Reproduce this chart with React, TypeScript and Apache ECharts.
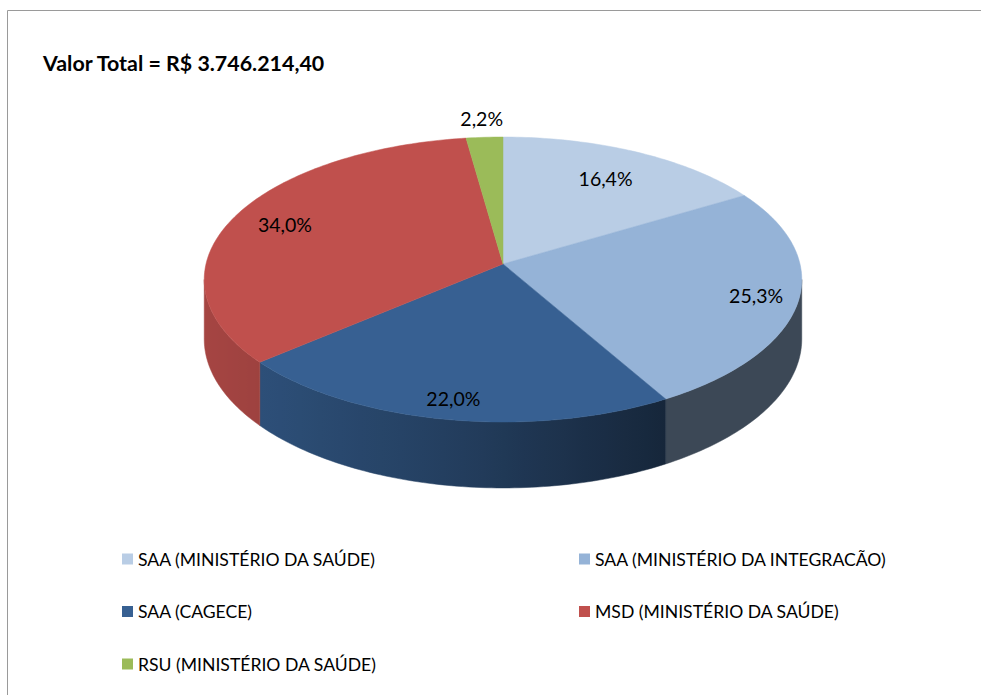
import React, { useEffect, useRef } from 'react';
import * as echarts from 'echarts';

// ---- data ----
const categories = [
  'SAA (MINISTÉRIO DA SAÚDE)',
  'SAA (MINISTÉRIO DA INTEGRACÃO)',
  'SAA (CAGECE)',
  'MSD (MINISTÉRIO DA SAÚDE)',
  'RSU (MINISTÉRIO DA SAÚDE)',
];
const shares = [16.4, 25.3, 22.0, 34.0, 2.2];
const titleText = 'Valor Total = R$ 3.746.214,40';

// ---- styles / layout ----
const colors = ['#B9CDE5', '#95B3D7', '#376092', '#C0504D', '#9BBB59'];
const CX = 503;
const CY = 264;
const RX = 297;
const RY = 140.8;
const K = 0.1088;
const DEPTH = 58.8;
const LABEL_R = [0.75, 0.86, 0.88, 0.81, 1.17];
const SHADE: number[][] = [
  [0, 0.86],
  [0.1, 0.82],
  [0.4, 0.66],
  [0.53, 0.57],
  [0.77, 0.4],
  [1, 0.4],
];
const FONT = 'Lato, "Open Sans", sans-serif';

function proj(phi: number, r = 1): [number, number] {
  const c = Math.cos(phi);
  const s = Math.sin(phi);
  const d = 1 - K * r * s;
  return [CX + (RX * r * c) / d, CY + (RY * r * s) / d];
}
function depthAt(phi: number) {
  return DEPTH / (1 - K * Math.sin(phi));
}
function shadeFactor(u: number) {
  if (u <= SHADE[0][0]) return SHADE[0][1];
  for (let i = 1; i < SHADE.length; i++) {
    if (u <= SHADE[i][0]) {
      const [u0, f0] = SHADE[i - 1];
      const [u1, f1] = SHADE[i];
      return f0 + ((f1 - f0) * (u - u0)) / (u1 - u0);
    }
  }
  return SHADE[SHADE.length - 1][1];
}
function shade(hex: string, f: number) {
  const n = parseInt(hex.slice(1), 16);
  const r = (n >> 16) & 255;
  const g = (n >> 8) & 255;
  const b = n & 255;
  return `rgb(${Math.round(r * f)},${Math.round(g * f)},${Math.round(b * f)})`;
}
function fmt(v: number) {
  return v.toFixed(1).replace('.', ',') + '%';
}

export default function App() {
  const ref = useRef<HTMLDivElement>(null);
  useEffect(() => {
    if (!ref.current) return;
    const chart = echarts.init(ref.current, null, { renderer: 'svg' });
    const total = shares.reduce((a, b) => a + b, 0);
    const starts: number[] = [];
    let acc = 0;
    shares.forEach((v) => {
      starts.push(acc);
      acc += v;
    });
    const angOf = (p: number) => -Math.PI / 2 + (2 * Math.PI * p) / total;
    const PHI_M = Math.asin(K);
    const xMin = CX - RX / Math.sqrt(1 - K * K);
    const xMax = CX + RX / Math.sqrt(1 - K * K);

    const data = shares.map((v, i) => ({
      name: categories[i],
      value: v,
      itemStyle: { color: colors[i] },
    }));

    const renderSide = (params: any, api: any) => {
      const i = params.dataIndex;
      const v = api.value(0);
      const a0 = angOf(starts[i]);
      const a1 = angOf(starts[i] + v);
      const a = Math.max(a0, PHI_M);
      const b = Math.min(a1, Math.PI - PHI_M);
      if (a >= b) return { type: 'group', children: [] };
      const n = Math.max(4, Math.ceil(((b - a) * 180) / Math.PI));
      const top: [number, number][] = [];
      for (let k = 0; k <= n; k++) top.push(proj(a + ((b - a) * k) / n));
      const bottom: [number, number][] = [];
      for (let k = n; k >= 0; k--) {
        const phi = a + ((b - a) * k) / n;
        const p = proj(phi);
        bottom.push([p[0], p[1] + depthAt(phi)]);
      }
      const pts = top.concat(bottom);
      let mn = Infinity;
      let mx = -Infinity;
      pts.forEach((p) => {
        mn = Math.min(mn, p[0]);
        mx = Math.max(mx, p[0]);
      });
      const base = colors[i];
      const stops = [];
      for (let t = 0; t <= 20; t++) {
        const x = mn + ((mx - mn) * t) / 20;
        const u = (x - xMin) / (xMax - xMin);
        stops.push({ offset: t / 20, color: shade(base, shadeFactor(u)) });
      }
      const grad = new echarts.graphic.LinearGradient(0, 0, 1, 0, stops);
      return {
        type: 'polygon',
        shape: { points: pts },
        style: { fill: grad, stroke: grad, lineWidth: 0.5 },
        silent: true,
      };
    };

    const renderTop = (params: any, api: any) => {
      const i = params.dataIndex;
      const v = api.value(0);
      const a0 = angOf(starts[i]);
      const a1 = angOf(starts[i] + v);
      const n = Math.max(4, Math.ceil(((a1 - a0) * 180) / Math.PI));
      const pts: [number, number][] = [[CX, CY]];
      for (let k = 0; k <= n; k++) pts.push(proj(a0 + ((a1 - a0) * k) / n));
      const mid = (a0 + a1) / 2;
      const lp = proj(mid, LABEL_R[i]);
      return {
        type: 'group',
        children: [
          {
            type: 'polygon',
            shape: { points: pts },
            style: { fill: colors[i], stroke: colors[i], lineWidth: 0.5 },
          },
          {
            type: 'text',
            x: lp[0],
            y: lp[1],
            z2: 10,
            style: {
              text: fmt(v),
              fill: '#000000',
              fontSize: 19.5,
              fontFamily: FONT,
              align: 'center',
              verticalAlign: 'middle',
            },
          },
        ],
      };
    };

    const legendBase = {
      orient: 'vertical' as const,
      top: 545,
      itemWidth: 11,
      itemHeight: 11,
      itemGap: 34.5,
      icon: 'rect',
      selectedMode: false,
      textStyle: { fontFamily: FONT, fontSize: 17.6, color: '#000000' },
    };

    chart.setOption({
      animation: false,
      backgroundColor: '#ffffff',
      title: {
        text: titleText,
        left: 43,
        top: 52,
        padding: 0,
        textStyle: { fontFamily: FONT, fontWeight: 'bold', fontSize: 21.4, color: '#000000' },
      },
      legend: [
        { ...legendBase, left: 117, data: [categories[0], categories[2], categories[4]] },
        { ...legendBase, left: 574, data: [categories[1], categories[3]] },
      ],
      graphic: [
        {
          type: 'rect',
          shape: { x: 7.5, y: 10.5, width: 1200, height: 1200 },
          style: { fill: 'none', stroke: '#9a9a9a', lineWidth: 1 },
          silent: true,
          z: -10,
        },
      ],
      series: [
        {
          type: 'pie',
          radius: 0,
          center: [CX, CY],
          silent: true,
          label: { show: false },
          labelLine: { show: false },
          data,
          z: 0,
        },
        {
          type: 'custom',
          coordinateSystem: 'none',
          renderItem: renderSide,
          data,
          z: 1,
          silent: true,
        },
        {
          type: 'custom',
          coordinateSystem: 'none',
          renderItem: renderTop,
          data,
          z: 2,
          silent: true,
        },
      ],
    });
    return () => chart.dispose();
  }, []);
  return (
    <div
      ref={ref}
      style={{ position: 'absolute', left: 0, top: 0, width: 981, height: 695 }}
    />
  );
}
